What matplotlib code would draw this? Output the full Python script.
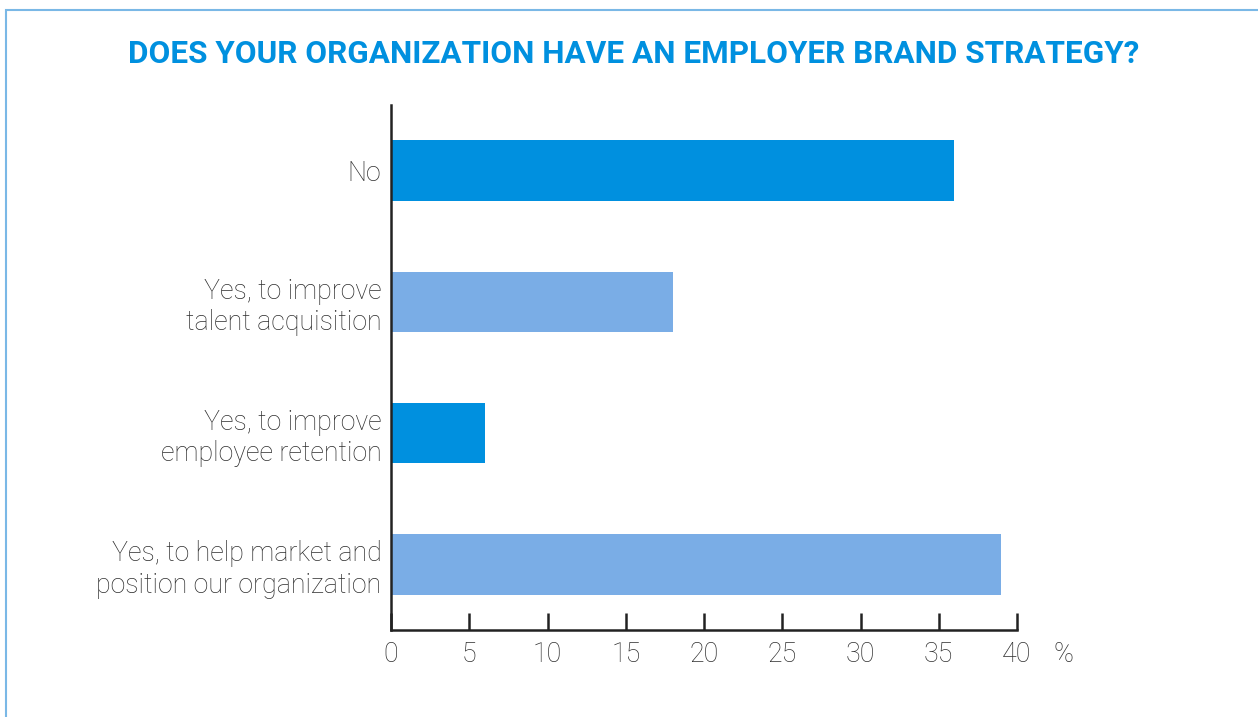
import matplotlib
matplotlib.use("Agg")
import matplotlib.pyplot as plt
from matplotlib.patches import Rectangle

# ========== DATA ==========
categories = [
    "Yes, to help market and\nposition our organization",
    "Yes, to improve\nemployee retention",
    "Yes, to improve\ntalent acquisition",
    "No",
]
values = [39, 6, 18, 36]
bar_colors = ["#7aade6", "#0090df", "#7aade6", "#0090df"]
x_ticks = [0, 5, 10, 15, 20, 25, 30, 35, 40]

TITLE = "DOES YOUR ORGANIZATION HAVE AN EMPLOYER BRAND STRATEGY?"
FONT = "Roboto"
TEXT_COLOR = "#2e2e2e"

# ========== FIGURE ==========
fig = plt.figure(figsize=(12.58, 7.17), dpi=100)
ax = fig.add_axes([391 / 1258, 87 / 717, 626 / 1258, 525 / 717])

ax.barh(range(len(values)), values, height=0.46, color=bar_colors)

ax.set_xlim(0, 40)
ax.set_ylim(-0.5, 3.5)
ax.set_xticks(x_ticks)
ax.set_yticks(range(len(categories)))
ax.set_yticklabels(categories, fontsize=19.3, fontfamily=FONT, fontweight="light",
                   color=TEXT_COLOR, linespacing=1.2)
ax.set_xticklabels([str(t) for t in x_ticks], fontsize=19.3, fontfamily=FONT,
                   fontweight="light", color=TEXT_COLOR)
ax.tick_params(axis="x", direction="in", length=12, width=1.8, color="#222222", pad=8)
ax.tick_params(axis="y", length=0, pad=7)

for side in ["top", "right"]:
    ax.spines[side].set_visible(False)
for side in ["left", "bottom"]:
    ax.spines[side].set_color("#222222")
    ax.spines[side].set_linewidth(1.8)

ax.text(1.0735, -0.02, "%", transform=ax.transAxes, ha="center", va="top",
        fontsize=19.3, fontfamily=FONT, fontweight="light", color=TEXT_COLOR)

fig.text(634 / 1258, 1 - 54 / 717, TITLE, ha="center", va="center",
         fontsize=22.7, fontfamily=FONT, fontweight="bold", color="#0090df")

# light blue frame
fig.add_artist(Rectangle((6 / 1258, -0.1), 1.2, 1 - 10 / 717 + 0.1, transform=fig.transFigure,
                         fill=False, edgecolor="#7ab8e6", linewidth=1.5))

fig.savefig("out.png", dpi=100, facecolor="white")
